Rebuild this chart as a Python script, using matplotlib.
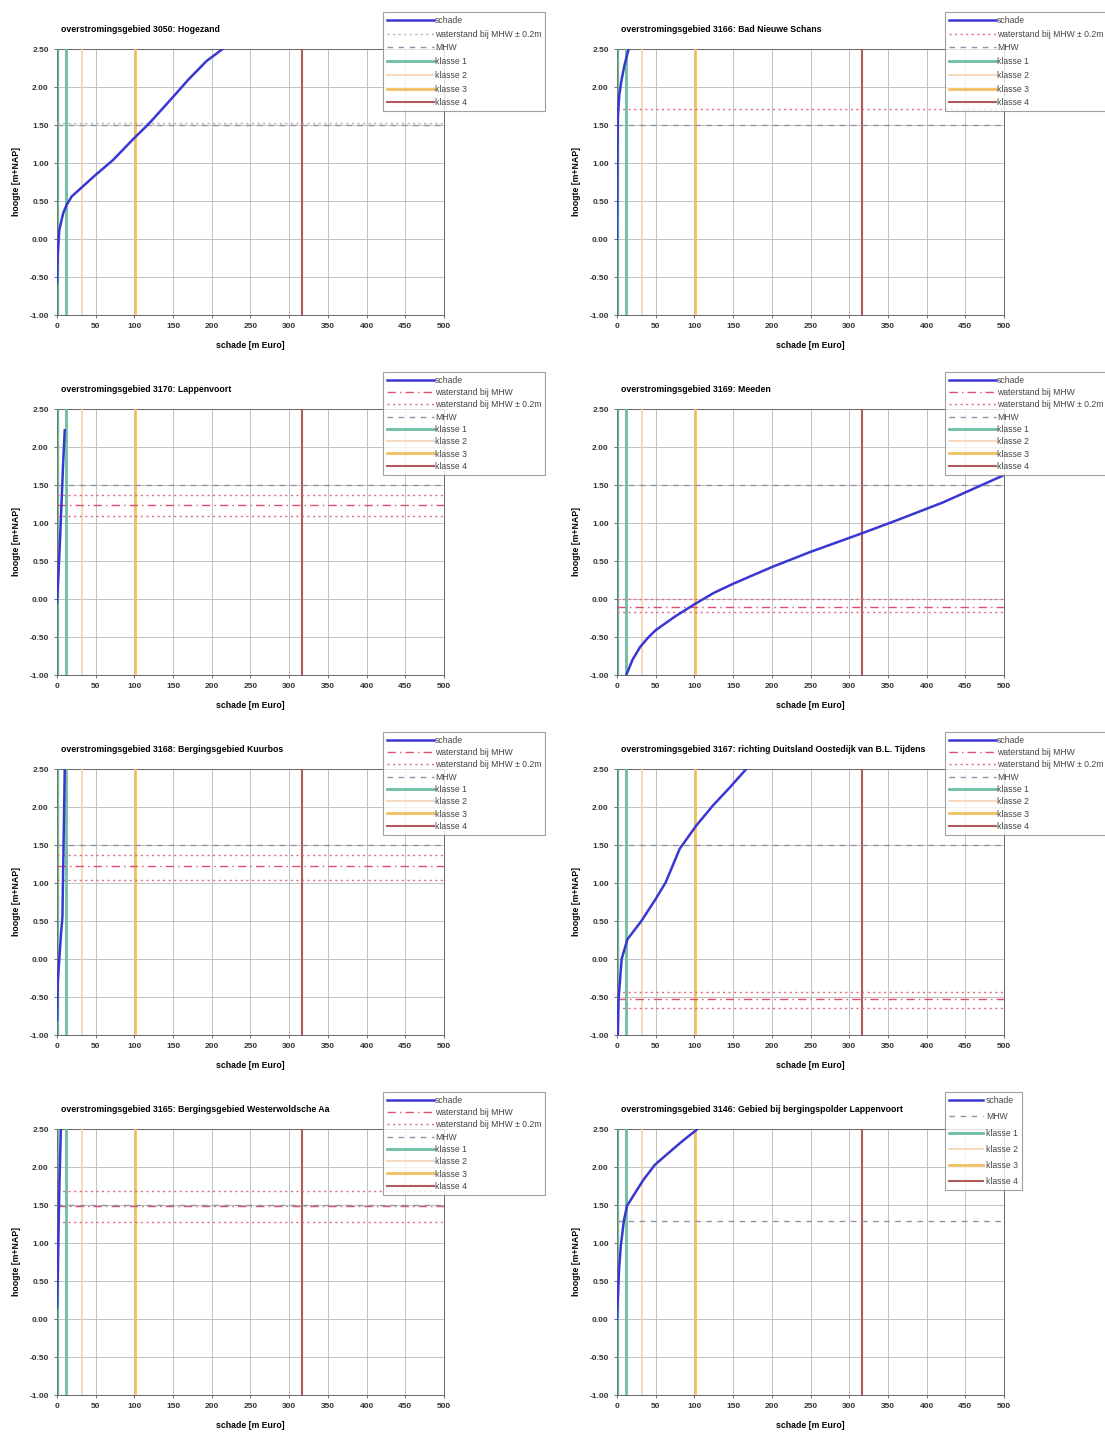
import numpy as np
import matplotlib.pyplot as plt

plt.rcParams['font.family'] = ['Liberation Sans', 'DejaVu Sans']

W, H = 1105, 1437

titles = [
    "overstromingsgebied 3050: Hogezand",
    "overstromingsgebied 3166: Bad Nieuwe Schans",
    "overstromingsgebied 3170: Lappenvoort",
    "overstromingsgebied 3169: Meeden",
    "overstromingsgebied 3168: Bergingsgebied Kuurbos",
    "overstromingsgebied 3167: richting Duitsland Oostedijk van B.L. Tijdens",
    "overstromingsgebied 3165: Bergingsgebied Westerwoldsche Aa",
    "overstromingsgebied 3146: Gebied bij bergingspolder Lappenvoort",
]

# schade curves (x = schade [m Euro], y = hoogte [m+NAP])
schade_x = [
    [0, 1, 3, 8, 12.5, 19, 31, 49.5, 72.5, 98, 119, 146.5, 170, 193, 214],
    [0, 0.5, 1, 3, 6, 10, 15],
    [0, 2, 4, 6, 8, 10],
    [12, 20, 30, 40, 50, 75, 100, 125, 150, 200, 250, 318, 360, 421, 500],
    [0, 1, 3, 5, 7, 8, 9, 10],
    [1, 2, 6, 13.5, 31.5, 50, 63, 81, 102, 124, 146, 167],
    [0, 1, 2, 3, 4, 5],
    [0, 2.6, 5, 9, 13, 34, 49, 82, 104],
]
schade_y = [
    [-0.58, -0.19, 0.12, 0.34, 0.45, 0.56, 0.67, 0.84, 1.04, 1.31, 1.52, 1.83, 2.10, 2.34, 2.5],
    [0.0, 1.0, 1.6, 1.9, 2.1, 2.3, 2.5],
    [-0.05, 0.35, 0.8, 1.3, 1.8, 2.22],
    [-1.0, -0.8, -0.63, -0.51, -0.41, -0.23, -0.07, 0.08, 0.2, 0.42, 0.62, 0.87, 1.03, 1.27, 1.63],
    [-0.8, -0.3, 0.0, 0.3, 0.55, 1.2, 1.83, 2.5],
    [-1.0, -0.53, 0.0, 0.26, 0.5, 0.79, 1.01, 1.45, 1.75, 2.02, 2.26, 2.5],
    [0.15, 0.6, 1.2, 1.7, 2.1, 2.5],
    [0.0, 0.64, 0.97, 1.3, 1.49, 1.83, 2.03, 2.32, 2.5],
]

mhw = [1.50, 1.50, 1.50, 1.50, 1.50, 1.50, 1.50, 1.29]
# waterstand bij MHW (None = not in chart)
ws_mhw = [None, None, 1.24, -0.10, 1.22, -0.53, 1.49, None]
# waterstand bij MHW +/- 0.2m
ws_band = [[1.53], [1.71], [1.37, 1.09], [0.0, -0.17], [1.37, 1.04], [-0.44, -0.64], [1.68, 1.28], []]

klasse1 = [1, 11]
klasse2 = [32]
klasse3 = [101]
klasse4 = [317]

xticks = np.arange(0, 501, 50)
yticks = np.arange(-1.0, 2.51, 0.5)

fig = plt.figure(figsize=(W / 100, H / 100), dpi=100)

col_left = [57, 617]
ax_w = 387
row_top = [49, 409, 769, 1129]
ax_h = 266
leg_left = [383, 945]
leg_top = [12, 372, 732, 1092]

for i in range(8):
    r, c = i // 2, i % 2
    ax = fig.add_axes([col_left[c] / W, 1 - (row_top[r] + ax_h) / H, ax_w / W, ax_h / H])
    ax.set_xlim(0, 500)
    ax.set_ylim(-1.0, 2.5)
    ax.set_xticks(xticks)
    ax.set_yticks(yticks)
    ax.set_yticklabels(["%.2f" % v for v in yticks])
    ax.grid(True, color="#b8b8b8", lw=0.6)
    ax.tick_params(labelsize=6, length=2, width=0.5, pad=4, colors="#333333")
    for lab in ax.get_xticklabels() + ax.get_yticklabels():
        lab.set_fontweight("bold")
    for s in ax.spines.values():
        s.set_color("#666666")
        s.set_linewidth(0.7)

    handles = []
    h_s, = ax.plot(schade_x[i], schade_y[i], color="#3a36d4", lw=1.8, zorder=6, label="schade")
    handles.append(h_s)
    if ws_mhw[i] is not None:
        h_w = ax.axhline(ws_mhw[i], color="#e0506a", lw=1.0, ls=(0, (6, 3, 1, 3)), zorder=4,
                         label="waterstand bij MHW")
        handles.append(h_w)
    if ws_band[i]:
        bcol = "#b0b0b0" if i == 0 else "#e06a80"
        h_b = None
        for v in ws_band[i]:
            h_b = ax.axhline(v, color=bcol, lw=1.0, ls=(0, (1.5, 2.5)), zorder=4,
                             label="waterstand bij MHW ± 0.2m")
        handles.append(h_b)
    h_m = ax.axhline(mhw[i], color="#8a96a8", lw=1.0, ls=(0, (4, 4)), zorder=4, label="MHW")
    handles.append(h_m)

    h1 = h2 = h3 = h4 = None
    for v in klasse1:
        h1 = ax.axvline(v, color="#6dbfa0", lw=1.0 if v < 5 else 2.0, zorder=3, label="klasse 1")
    for v in klasse2:
        h2 = ax.axvline(v, color="#f6d2b0", lw=1.2, zorder=3, label="klasse 2")
    for v in klasse3:
        h3 = ax.axvline(v, color="#f2c060", lw=2.0, zorder=3, label="klasse 3")
    for v in klasse4:
        h4 = ax.axvline(v, color="#b05a5a", lw=1.5, zorder=3, label="klasse 4")
    handles += [h1, h2, h3, h4]

    ax.set_title(titles[i], loc="left", fontsize=6.3, fontweight="bold", pad=12, x=0.01)
    ax.set_xlabel("schade [m Euro]", fontsize=6.3, fontweight="bold", labelpad=8)
    ax.set_ylabel("hoogte [m+NAP]", fontsize=6.3, fontweight="bold", labelpad=6)

    n = len(handles)
    spacing = {6: 0.85, 7: 0.55, 8: 0.38}[n]
    leg = ax.legend(handles=handles, loc="upper left",
                    bbox_to_anchor=(leg_left[c] / W, 1 - leg_top[r] / H),
                    bbox_transform=fig.transFigure, fontsize=6.2, frameon=True,
                    fancybox=False, handlelength=4.0 if n == 6 else 5.5,
                    handletextpad=0.3 if n == 6 else 0.1,
                    labelspacing=spacing, borderpad=0.45, borderaxespad=0)
    leg.get_frame().set_edgecolor("#888888")
    leg.get_frame().set_linewidth(0.8)
    for t in leg.get_texts():
        t.set_color("#444444")
    leg.set_zorder(10)

fig.savefig("out.png", dpi=100)
